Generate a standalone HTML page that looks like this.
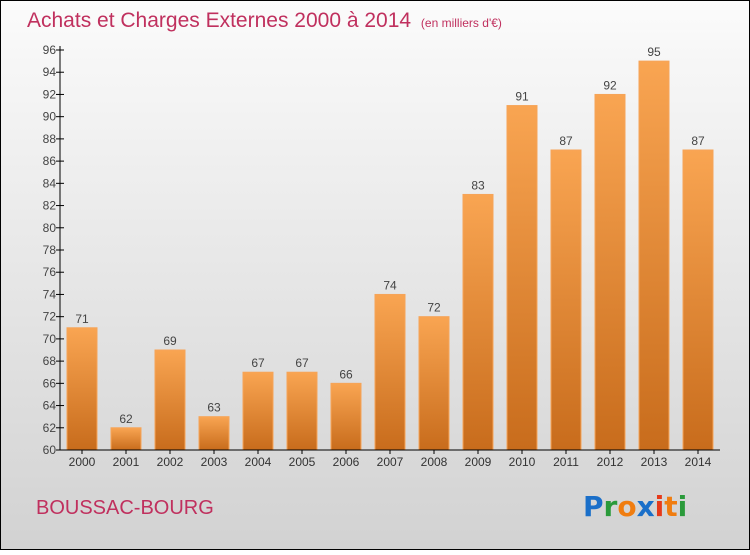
<!DOCTYPE html>
<html><head><meta charset="utf-8"><style>
html,body{margin:0;padding:0}
body{width:750px;height:550px;overflow:hidden;font-family:"Liberation Sans",sans-serif}
</style></head><body>
<svg id="chart" width="750" height="550" xmlns="http://www.w3.org/2000/svg">
<defs>
<linearGradient id="bg" x1="0" y1="0" x2="0" y2="1"><stop offset="0" stop-color="#fbfbfb"/><stop offset="1" stop-color="#d2d2d2"/></linearGradient>
<linearGradient id="bar" x1="0" y1="0" x2="0" y2="1"><stop offset="0" stop-color="#f9a552"/><stop offset="1" stop-color="#c86c1c"/></linearGradient>
</defs>
<rect x="0.5" y="0.5" width="749" height="549" fill="url(#bg)" stroke="#000"/>
<text x="27" y="27" font-size="21" fill="#c0305e">Achats et Charges Externes 2000 à 2014 <tspan font-size="12" dx="4">(en milliers d'€)</tspan></text>
<g id="plot"></g>
<text x="36" y="514" font-size="20" fill="#c0305e">BOUSSAC-BOURG</text>
<g font-size="28" font-weight="bold" font-family="'DejaVu Sans',sans-serif">
<text x="583" y="516"><tspan fill="#1a6fc9">P</tspan><tspan fill="#2a9a3a">r</tspan><tspan fill="#f07d10">o</tspan><tspan fill="#1a6fc9">x</tspan><tspan fill="#e63a1a">i</tspan><tspan fill="#f07d10">t</tspan><tspan fill="#2a9a3a">i</tspan></text>
</g>
</svg>
<script>
const years=["2000","2001","2002","2003","2004","2005","2006","2007","2008","2009","2010","2011","2012","2013","2014"];
const values=[71,62,69,63,67,67,66,74,72,83,91,87,92,95,87];
const yTicks=[60,62,64,66,68,70,72,74,76,78,80,82,84,86,88,90,92,94,96];
const NS="http://www.w3.org/2000/svg";
const g=document.getElementById('plot');
const y0=450,y1=50,vmin=60,vmax=96;
function ys(v){return y0-(v-vmin)/(vmax-vmin)*(y0-y1);}
function xs(i){return 82+i*44;}
function mk(t,a,txt){const e=document.createElementNS(NS,t);for(const k in a)e.setAttribute(k,a[k]);if(txt!==undefined)e.textContent=txt;g.appendChild(e);return e;}
years.forEach((yr,i)=>{
 const v=values[i];
 const r=mk('rect',{x:xs(i)-15,y:ys(v),width:30,height:y0-ys(v),fill:'url(#bar)',stroke:'#f6a458','stroke-width':1});
 
 
 const l=mk('text',{x:xs(i),y:ys(v)-5,'text-anchor':'middle','font-size':12,fill:'#444'},String(v));
 
 
 const xl=mk('text',{x:xs(i),y:466,'text-anchor':'middle','font-size':12,fill:'#333'},yr);
 
 
 mk('line',{x1:xs(i),x2:xs(i),y1:450,y2:454,stroke:'#000'});
});
yTicks.forEach(t=>{
 mk('line',{x1:56,x2:64,y1:ys(t),y2:ys(t),stroke:'#000'});
 const tl=mk('text',{x:56,y:ys(t)+4,'text-anchor':'end','font-size':12,fill:'#444'},String(t));
 
 
});
const ya=mk('line',{x1:60,x2:60,y1:46,y2:450,stroke:'#000'});


const xa=mk('line',{x1:60,x2:720,y1:450,y2:450,stroke:'#000'});


</script>
</body></html>
